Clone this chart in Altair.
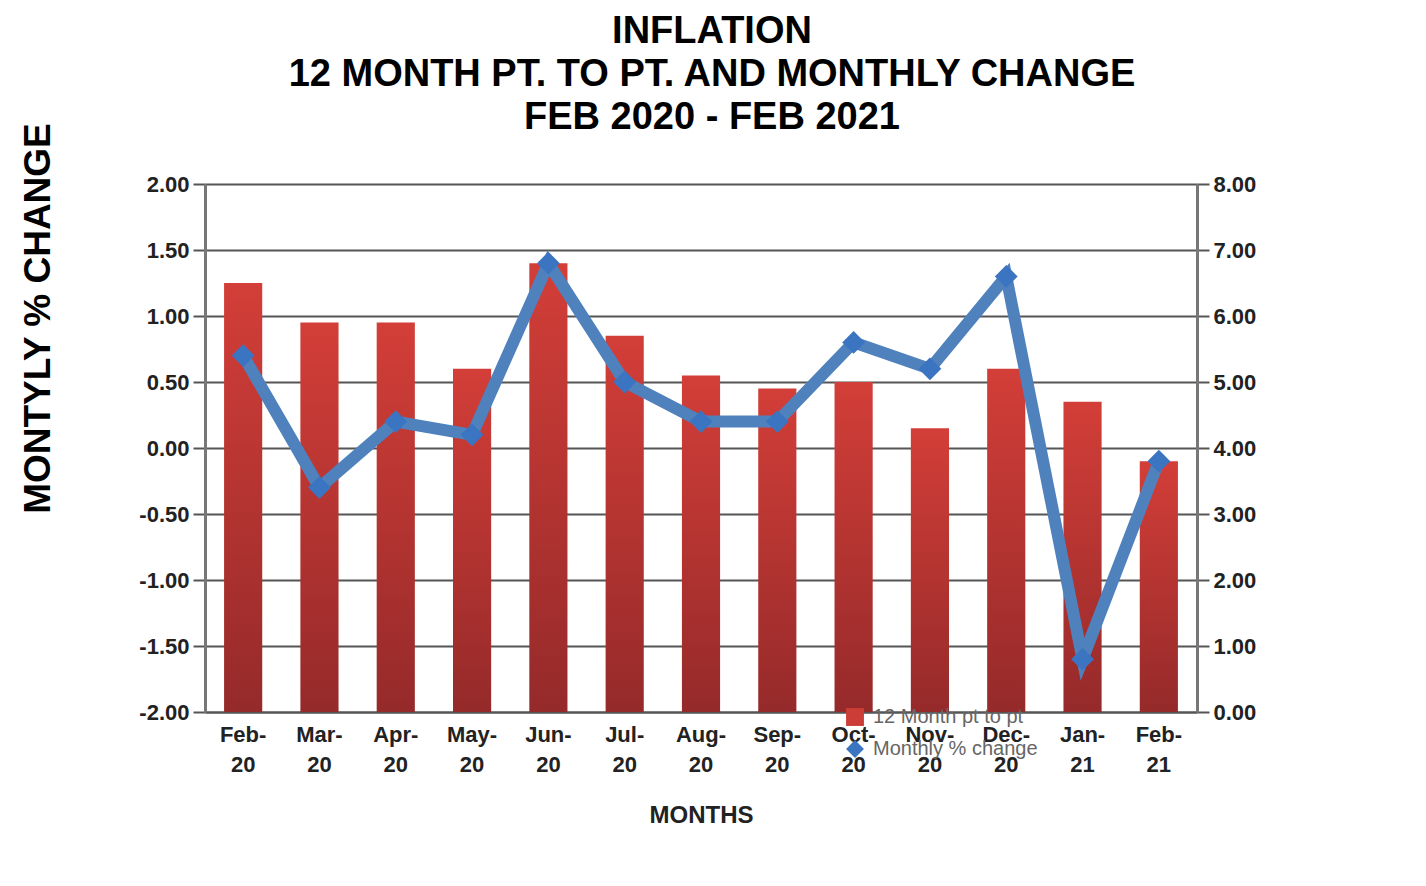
import altair as alt
import pandas as pd

months = ["Feb-20", "Mar-20", "Apr-20", "May-20", "Jun-20", "Jul-20", "Aug-20",
          "Sep-20", "Oct-20", "Nov-20", "Dec-20", "Jan-21", "Feb-21"]
pt_to_pt = [6.5, 5.9, 5.9, 5.2, 6.8, 5.7, 5.1, 4.9, 5.0, 4.3, 5.2, 4.7, 3.8]
monthly = [0.70, -0.30, 0.20, 0.10, 1.40, 0.50, 0.20, 0.20, 0.80, 0.60, 1.30, -1.60, -0.10]
series_names = ["12 Month pt to pt", "Monthly % change"]
left_ticks = [-2.0, -1.5, -1.0, -0.5, 0.0, 0.5, 1.0, 1.5, 2.0]
right_ticks = [0, 1, 2, 3, 4, 5, 6, 7, 8]
title_lines = ["INFLATION", "12 MONTH PT. TO PT. AND MONTHLY CHANGE", "FEB 2020 - FEB 2021"]

df = pd.DataFrame({"month": months, "pt": pt_to_pt, "monthly": monthly,
                   "series": series_names[1]})

FONT = "Liberation Sans"
GRID = "#555555"
MINUS_FIX = "replace(datum.label, '\u2212', '-')"

x_enc = alt.X(
    "month:N", sort=months,
    scale=alt.Scale(paddingInner=0.5, paddingOuter=0.25),
    axis=alt.Axis(
        title="MONTHS", labelAngle=0,
        labelExpr="[split(datum.label,'-')[0] + '-', split(datum.label,'-')[1]]",
        labelFont=FONT, labelFontSize=22, labelFontWeight="bold", labelColor="#222222",
        labelLineHeight=30, labelPadding=12, labelBaseline="top",
        ticks=False, domain=True, domainColor=GRID, domainWidth=2, grid=False,
        titleFont=FONT, titleFontSize=24, titleFontWeight="bold", titleColor="#222222",
        titleY=103, titleBaseline="middle",
    ),
)

grad = alt.Gradient(
    gradient="linear",
    stops=[alt.GradientStop(color="#d33e38", offset=0),
           alt.GradientStop(color="#952a2a", offset=1)],
    x1=0, x2=0, y1=0, y2=1,
)

bars = alt.Chart(df).mark_bar(fill=grad).encode(
    x=x_enc,
    y=alt.Y("pt:Q", scale=alt.Scale(domain=[0, 8], nice=False, zero=True),
            axis=alt.Axis(orient="right", values=right_ticks, format=".2f", grid=False,
                          title=None, labelFont=FONT, labelFontSize=22,
                          labelFontWeight="bold", labelColor="#222222",
                          tickSize=12, tickWidth=2, tickColor=GRID,
                          domainColor="#777777", domainWidth=3, labelPadding=4)),
)

y_left = alt.Y(
    "monthly:Q", scale=alt.Scale(domain=[-2, 2], nice=False, zero=False),
    axis=alt.Axis(orient="left", values=left_ticks, format=".2f", grid=True,
                  labelExpr=MINUS_FIX,
                  gridColor=GRID, gridWidth=2, gridOpacity=1,
                  title="MONTYLY % CHANGE", titleFont=FONT, titleFontSize=37,
                  titleFontWeight="bold", titleColor="#000000",
                  titleX=-167, titleY=134, titleAngle=-90, titleAlign="center",
                  titleBaseline="middle",
                  labelFont=FONT, labelFontSize=22, labelFontWeight="bold",
                  labelColor="#222222", tickSize=12, tickWidth=2, tickColor=GRID,
                  domainColor="#777777", domainWidth=3, labelPadding=4),
)

legend = alt.Legend(title=None, orient="none", legendX=640, legendY=523,
                    labelFont=FONT, labelFontSize=20, labelColor="#666666",
                    labelLimit=0, symbolSize=320, rowPadding=12, labelOffset=8,
                    symbolStrokeWidth=0)

line = alt.Chart(df).mark_line(color="#4f81bd", strokeWidth=12).encode(
    x=x_enc, y=y_left,
)

points = alt.Chart(df).mark_point(filled=True, size=520, opacity=1).encode(
    x=x_enc, y=y_left,
    color=alt.Color("series:N", scale=alt.Scale(domain=series_names,
                                                range=["#cc3d37", "#3b74c0"]),
                    legend=legend),
    shape=alt.Shape("series:N", scale=alt.Scale(domain=series_names,
                                                range=["square", "diamond"]),
                    legend=legend),
)

inner = alt.layer(line, points)

chart = alt.layer(bars, inner).resolve_scale(y="independent").properties(
    width=992, height=528,
    title=alt.TitleParams(text=title_lines, font=FONT, fontSize=38, fontWeight="bold",
                          color="#000000", lineHeight=43, anchor="middle",
                          offset=14, dx=11, dy=29),
    autosize=alt.AutoSizeParams(type="none"),
    padding={"left": 197, "top": 176, "right": 190, "bottom": 150},
    background="white",
).configure_view(stroke=None)

chart.save("out.html", embed_options={"renderer": "svg", "actions": False})
